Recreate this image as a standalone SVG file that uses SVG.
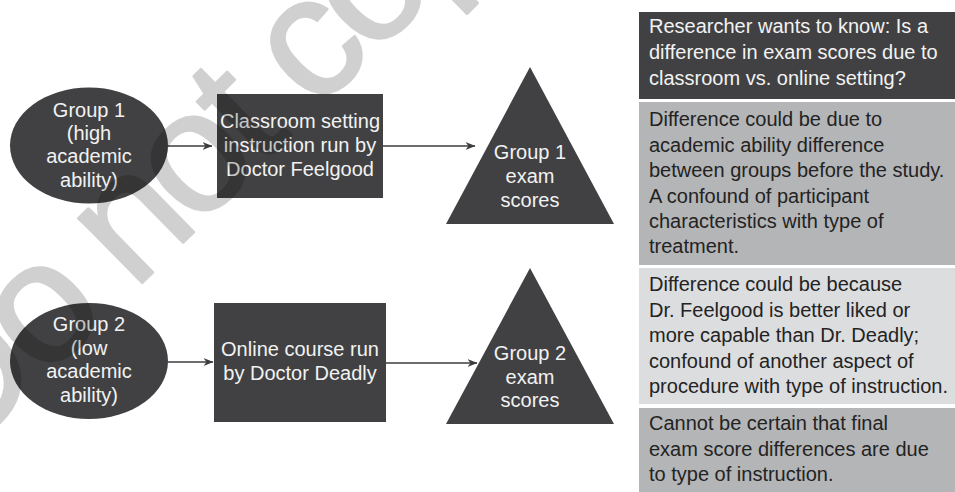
<svg xmlns="http://www.w3.org/2000/svg" width="955" height="492" viewBox="0 0 955 492">
  <defs>
    <marker id="arrow" viewBox="0 0 10 8" refX="9.5" refY="4" markerWidth="10" markerHeight="8" markerUnits="userSpaceOnUse" orient="auto">
      <path d="M0,0 L10,4 L0,8 L3,4 Z" fill="#3c3c3e"/>
    </marker>
  </defs>
  <style>
    .shape { fill: #414143; }
    .lt { font-family: "Liberation Sans", Arial, Helvetica, sans-serif; font-size: 20px; fill: #f2f2f2; text-anchor: middle; }
    .pt { font-family: "Liberation Sans", Arial, Helvetica, sans-serif; font-size: 20px; }
    .pt-light { fill: #f2f2f2; }
    .pt-dark { fill: #232323; }
    .conn { stroke: #3c3c3e; stroke-width: 1.5; fill: none; marker-end: url(#arrow); }
    .wm { font-family: "Liberation Sans", Arial, Helvetica, sans-serif; font-size: 172px; letter-spacing: -8px; fill: #000; stroke: #000; stroke-width: 2.5; stroke-linejoin: round; opacity: 0.18; }
  </style>

  <rect width="955" height="492" fill="#ffffff"/>

  <!-- Group 1 branch -->
  <g id="group1">
    <ellipse class="shape" cx="89" cy="145.5" rx="79" ry="58"/>
    <text class="lt" x="89" y="117">Group 1</text>
    <text class="lt" x="89" y="140">(high</text>
    <text class="lt" x="89" y="163">academic</text>
    <text class="lt" x="89" y="187">ability)</text>
  </g>
  <g id="classroom">
    <rect class="shape" x="217" y="94" width="166" height="104"/>
    <text class="lt" x="300" y="128">Classroom setting</text>
    <text class="lt" x="300" y="152">instruction run by</text>
    <text class="lt" x="300" y="176">Doctor Feelgood</text>
  </g>
  <g id="scores1">
    <polygon class="shape" points="530,67 614,224 446,224"/>
    <text class="lt" x="530" y="159">Group 1</text>
    <text class="lt" x="530" y="183">exam</text>
    <text class="lt" x="530" y="207">scores</text>
  </g>

  <!-- Group 2 branch -->
  <g id="group2">
    <ellipse class="shape" cx="89" cy="361" rx="79" ry="58"/>
    <text class="lt" x="89" y="331">Group 2</text>
    <text class="lt" x="89" y="355">(low</text>
    <text class="lt" x="89" y="378">academic</text>
    <text class="lt" x="89" y="402">ability)</text>
  </g>
  <g id="online">
    <rect class="shape" x="214" y="303" width="172" height="119"/>
    <text class="lt" x="300" y="356">Online course run</text>
    <text class="lt" x="300" y="380">by Doctor Deadly</text>
  </g>
  <g id="scores2">
    <polygon class="shape" points="530,268 614,424 446,424"/>
    <text class="lt" x="530" y="360">Group 2</text>
    <text class="lt" x="530" y="384">exam</text>
    <text class="lt" x="530" y="407">scores</text>
  </g>

  <!-- Connectors -->
  <g id="connectors">
    <line class="conn" x1="168" y1="146" x2="212" y2="146"/>
    <line class="conn" x1="383" y1="146" x2="475" y2="146"/>
    <line class="conn" x1="168" y1="362" x2="213" y2="362"/>
    <line class="conn" x1="386" y1="363" x2="477" y2="363"/>
  </g>

  <!-- Explanation panel -->
  <g id="question">
    <rect x="639" y="12" width="316" height="87" fill="#414143"/>
    <text class="pt pt-light" x="649" y="33">Researcher wants to know: Is a</text>
    <text class="pt pt-light" x="649" y="59">difference in exam scores due to</text>
    <text class="pt pt-light" x="649" y="85">classroom vs. online setting?</text>
  </g>
  <g id="participant-confound">
    <rect x="639" y="102" width="316" height="163" fill="#b4b5b7"/>
    <text class="pt pt-dark" x="649" y="126">Difference could be due to</text>
    <text class="pt pt-dark" x="649" y="152">academic ability difference</text>
    <text class="pt pt-dark" x="649" y="177">between groups before the study.</text>
    <text class="pt pt-dark" x="649" y="203">A confound of participant</text>
    <text class="pt pt-dark" x="649" y="228">characteristics with type of</text>
    <text class="pt pt-dark" x="649" y="253">treatment.</text>
  </g>
  <g id="procedure-confound">
    <rect x="639" y="268" width="316" height="136" fill="#dcdddf"/>
    <text class="pt pt-dark" x="649" y="291">Difference could be because</text>
    <text class="pt pt-dark" x="649" y="317">Dr. Feelgood is better liked or</text>
    <text class="pt pt-dark" x="649" y="342">more capable than Dr. Deadly;</text>
    <text class="pt pt-dark" x="649" y="368">confound of another aspect of</text>
    <text class="pt pt-dark" x="649" y="393">procedure with type of instruction.</text>
  </g>
  <g id="conclusion">
    <rect x="639" y="408" width="316" height="84" fill="#b4b5b7"/>
    <text class="pt pt-dark" x="649" y="430">Cannot be certain that final</text>
    <text class="pt pt-dark" x="649" y="456">exam score differences are due</text>
    <text class="pt pt-dark" x="649" y="481">to type of instruction.</text>
  </g>

  <!-- Diagonal watermark -->
  <text class="wm" transform="translate(-40,462) rotate(-44.5)">Do not copy</text>
</svg>
